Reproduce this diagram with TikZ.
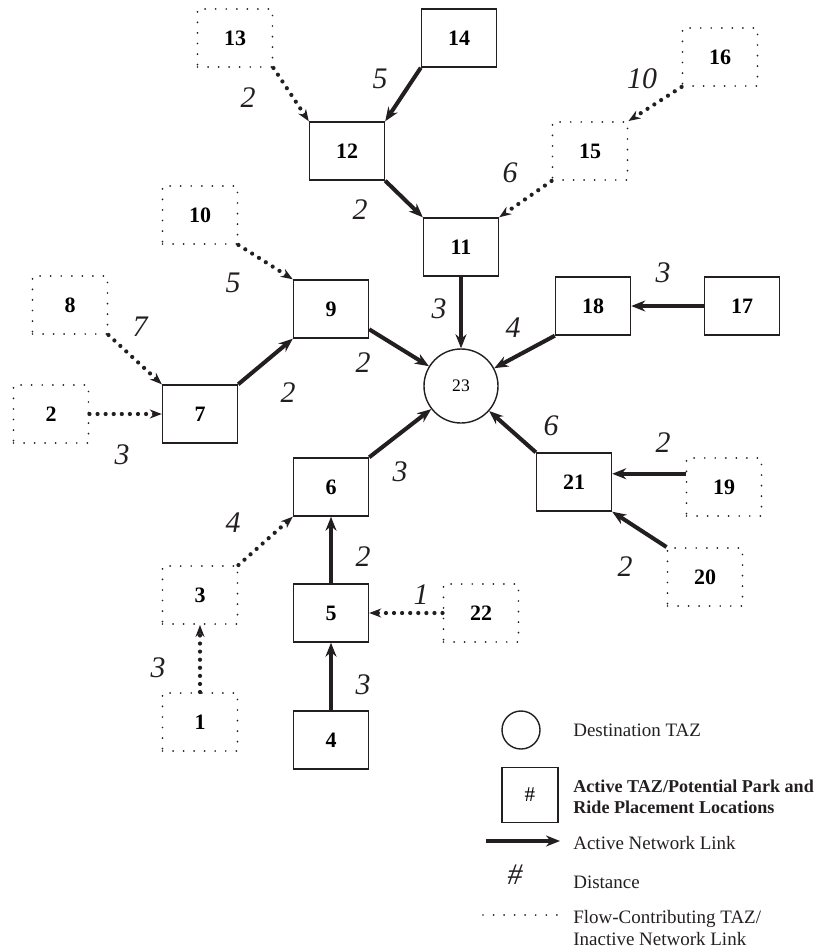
\documentclass[tikz,border=0pt]{standalone}
\usepackage{fontspec}
\setmainfont{Liberation Serif}
\usepackage{xcolor}
\usepackage{tikz}
\usetikzlibrary{shapes.geometric,arrows.meta,positioning,calc}
\definecolor{negro}{HTML}{231F20}
\tikzset{
  caja/.style={draw=negro,line width=0.8pt,minimum width=15mm,minimum height=11.6mm,inner sep=0pt,font=\fontsize{12.5}{14}\selectfont\bfseries},
  cajapunteada/.style={caja,line width=1.1pt,dash pattern=on 0pt off 6pt,line cap=round},
  destino/.style={circle,draw=negro,line width=0.8pt,minimum size=14.8mm,inner sep=0pt,font=\fontsize{10}{12}\selectfont},
  flecha/.style={-{Stealth[length=2.8mm,width=2.2mm]},line width=2.3pt,negro},
  flechapunteada/.style={-{Stealth[length=2.4mm,width=1.8mm]},line width=2.4pt,dash pattern=on 0pt off 4.6pt,line cap=round,negro},
  punteado/.style={line width=1.1pt,dash pattern=on 0pt off 6pt,line cap=round,negro},
  distancia/.style={font=\fontsize{17}{20}\selectfont\itshape,inner sep=0pt,text=negro},
  leyenda/.style={font=\fontsize{10.8}{12.5}\selectfont,anchor=west,align=left,inner sep=0pt,text=negro},
}
\begin{document}
\begin{tikzpicture}[x=0.2mm,y=-0.2mm]
  \useasboundingbox (0,0) rectangle (824,951);
  \node[cajapunteada] (n13) at (235,38) {13};
  \node[caja] (n14) at (459,38) {14};
  \node[cajapunteada] (n16) at (720,57) {16};
  \node[caja] (n12) at (347,151) {12};
  \node[cajapunteada] (n15) at (590,151) {15};
  \node[cajapunteada] (n10) at (200,215) {10};
  \node[caja] (n11) at (461,247) {11};
  \node[cajapunteada] (n8) at (70,305) {8};
  \node[caja] (n9) at (331,309) {9};
  \node[caja] (n18) at (593,306) {18};
  \node[caja] (n17) at (742,306) {17};
  \node[destino] (n23) at (461,386) {23};
  \node[cajapunteada] (n2) at (51,414) {2};
  \node[caja] (n7) at (200,414) {7};
  \node[caja] (n6) at (331,487) {6};
  \node[caja] (n21) at (574,482) {21};
  \node[cajapunteada] (n19) at (724,487) {19};
  \node[cajapunteada] (n20) at (705,577) {20};
  \node[cajapunteada] (n3) at (200,595) {3};
  \node[caja] (n5) at (331,613) {5};
  \node[cajapunteada] (n22) at (481,613) {22};
  \node[cajapunteada] (n1) at (200,722) {1};
  \node[caja] (n4) at (331,740) {4};

  \draw[flechapunteada] (n13.south east) -- (n12.north west);
  \draw[flecha] (n14.south west) -- (n12.north east);
  \draw[flecha] (n12.south east) -- (n11.north west);
  \draw[flechapunteada] (n16.south west) -- (n15.north east);
  \draw[flechapunteada] (n15.south west) -- (n11.north east);
  \draw[flecha] (n11) -- (n23);
  \draw[flechapunteada] (n10.south east) -- (n9.north west);
  \draw[flecha] (n9.-28) -- (n23);
  \draw[flecha] (n17) -- (n18);
  \draw[flecha] (n18.south west) -- (n23);
  \draw[flechapunteada] (n8.south east) -- (n7.north west);
  \draw[flechapunteada] (n2) -- (n7);
  \draw[flecha] (n7.north east) -- (n9.south west);
  \draw[flecha] (n6.north east) -- (n23);
  \draw[flecha] (n21.north west) -- (n23);
  \draw[flecha] (n19.161) -- (n19.161 -| n21.east);
  \draw[flecha] (n20.north west) -- (n21.south east);
  \draw[flechapunteada] (n3.north east) -- (n6.south west);
  \draw[flecha] (n5) -- (n6);
  \draw[flechapunteada] (n22) -- (n5);
  \draw[flechapunteada] (n1) -- (n3);
  \draw[flecha] (n4) -- (n5);

  \node[distancia] (d13) at (248,98) {2};
  \node[distancia] (d14) at (380,79) {5};
  \node[distancia] (d12) at (360,210) {2};
  \node[distancia] (d16) at (642,79) {10};
  \node[distancia] (d15) at (510,173) {6};
  \node[distancia] (d10) at (233,283) {5};
  \node[distancia] (d11) at (439,309) {3};
  \node[distancia] (d17) at (663,273) {3};
  \node[distancia] (d18) at (513,328) {4};
  \node[distancia] (d8) at (140,327) {7};
  \node[distancia] (d9) at (363,363) {2};
  \node[distancia] (d7) at (288,393) {2};
  \node[distancia] (d2) at (122,455) {3};
  \node[distancia] (d6) at (400,472) {3};
  \node[distancia] (d21) at (551,426) {6};
  \node[distancia] (d19) at (663,443) {2};
  \node[distancia] (d20) at (625,567) {2};
  \node[distancia] (d3) at (233,523) {4};
  \node[distancia] (d5) at (363,557) {2};
  \node[distancia] (d22) at (421,595) {1};
  \node[distancia] (d1) at (158,668) {3};
  \node[distancia] (d4) at (363,685) {3};

  \node[destino,minimum size=7.6mm] (leycirculo) at (521,730) {};
  \node[leyenda] (leydestino) at (573,730) {Destination TAZ};
  \node[caja,minimum width=11.2mm,minimum height=11mm,font=\fontsize{12}{14}\selectfont] (leycaja) at (530,795) {\#};
  \node[leyenda,font=\fontsize{10.3}{12}\selectfont\bfseries] (leyactiva) at (573,797) {Active TAZ/Potential Park and\\Ride Placement Locations};
  \coordinate (leyflechaa) at (486,841); \coordinate (leyflechab) at (560,841);
  \draw[flecha] (leyflechaa) -- (leyflechab);
  \node[leyenda] (leyenlace) at (573,843) {Active Network Link};
  \node[distancia] (leynumero) at (515,875) {\#};
  \node[leyenda] (leydistancia) at (573,882) {Distance};
  \coordinate (leypuntoa) at (483,915); \coordinate (leypuntob) at (558,915);
  \draw[punteado] (leypuntoa) -- (leypuntob);
  \node[leyenda] (leyflujo) at (573,928) {Flow-Contributing TAZ/\\Inactive Network Link};
\end{tikzpicture}
\end{document}
